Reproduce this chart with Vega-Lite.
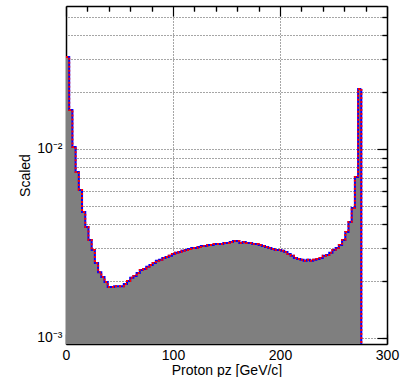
{
  "$schema": "https://vega.github.io/schema/vega-lite/v6.json",
  "width": 321,
  "height": 338,
  "autosize": {"type": "none"},
  "padding": {"left": 66, "top": 6, "right": 20, "bottom": 33},
  "background": "white",
  "config": {
    "font": "Liberation Sans",
    "view": {"stroke": null},
    "axis": {
      "labelFont": "Liberation Sans",
      "titleFont": "Liberation Sans",
      "labelColor": "#000",
      "titleColor": "#000",
      "tickColor": "#000",
      "domainColor": "#000",
      "labelFontSize": 14,
      "titleFontSize": 14,
      "titleFontWeight": "normal",
      "gridColor": "#000",
      "gridDash": [1, 2],
      "gridOpacity": 0.7,
      "gridWidth": 1,
      "tickWidth": 1.2,
      "domainWidth": 1.5,
      "zindex": 1
    }
  },
  "datasets": {
    "h": [
      {"lo": 0, "v": 0.0307}, {"lo": 3, "v": 0.0161}, {"lo": 6, "v": 0.01025}, {"lo": 9, "v": 0.00756},
      {"lo": 12, "v": 0.00607}, {"lo": 15, "v": 0.00464}, {"lo": 18, "v": 0.00387}, {"lo": 21, "v": 0.0033},
      {"lo": 24, "v": 0.00292}, {"lo": 27, "v": 0.00249}, {"lo": 30, "v": 0.00223}, {"lo": 33, "v": 0.0021},
      {"lo": 36, "v": 0.00198}, {"lo": 39, "v": 0.00186}, {"lo": 42, "v": 0.00186}, {"lo": 45, "v": 0.00188},
      {"lo": 48, "v": 0.00188}, {"lo": 51, "v": 0.00188}, {"lo": 54, "v": 0.00193}, {"lo": 57, "v": 0.002},
      {"lo": 60, "v": 0.00208}, {"lo": 63, "v": 0.00213}, {"lo": 66, "v": 0.00221}, {"lo": 69, "v": 0.00229},
      {"lo": 72, "v": 0.00232}, {"lo": 75, "v": 0.00238}, {"lo": 78, "v": 0.00243}, {"lo": 81, "v": 0.00249},
      {"lo": 84, "v": 0.00256}, {"lo": 87, "v": 0.00259}, {"lo": 90, "v": 0.00265}, {"lo": 93, "v": 0.00268},
      {"lo": 96, "v": 0.00272}, {"lo": 99, "v": 0.00278}, {"lo": 102, "v": 0.00282}, {"lo": 105, "v": 0.00285},
      {"lo": 108, "v": 0.00289}, {"lo": 111, "v": 0.00292}, {"lo": 114, "v": 0.00296}, {"lo": 117, "v": 0.00299},
      {"lo": 120, "v": 0.00299}, {"lo": 123, "v": 0.00303}, {"lo": 126, "v": 0.00307}, {"lo": 129, "v": 0.00307},
      {"lo": 132, "v": 0.0031}, {"lo": 135, "v": 0.0031}, {"lo": 138, "v": 0.00314}, {"lo": 141, "v": 0.00314},
      {"lo": 144, "v": 0.00314}, {"lo": 147, "v": 0.00318}, {"lo": 150, "v": 0.00318}, {"lo": 153, "v": 0.00322},
      {"lo": 156, "v": 0.00326}, {"lo": 159, "v": 0.00326}, {"lo": 162, "v": 0.00318}, {"lo": 165, "v": 0.00322},
      {"lo": 168, "v": 0.00318}, {"lo": 171, "v": 0.00318}, {"lo": 174, "v": 0.00314}, {"lo": 177, "v": 0.00314},
      {"lo": 180, "v": 0.0031}, {"lo": 183, "v": 0.00307}, {"lo": 186, "v": 0.00303}, {"lo": 189, "v": 0.00299},
      {"lo": 192, "v": 0.00296}, {"lo": 195, "v": 0.00292}, {"lo": 198, "v": 0.00292}, {"lo": 201, "v": 0.00289},
      {"lo": 204, "v": 0.00285}, {"lo": 207, "v": 0.00278}, {"lo": 210, "v": 0.00272}, {"lo": 213, "v": 0.00265},
      {"lo": 216, "v": 0.00262}, {"lo": 219, "v": 0.00259}, {"lo": 222, "v": 0.00256}, {"lo": 225, "v": 0.00259},
      {"lo": 228, "v": 0.00256}, {"lo": 231, "v": 0.00259}, {"lo": 234, "v": 0.00262}, {"lo": 237, "v": 0.00265},
      {"lo": 240, "v": 0.00272}, {"lo": 243, "v": 0.00275}, {"lo": 246, "v": 0.00282}, {"lo": 249, "v": 0.00292},
      {"lo": 252, "v": 0.00299}, {"lo": 255, "v": 0.0031}, {"lo": 258, "v": 0.0033}, {"lo": 261, "v": 0.00364},
      {"lo": 264, "v": 0.00411}, {"lo": 267, "v": 0.00487}, {"lo": 270, "v": 0.00711}, {"lo": 273, "v": 0.0208},
      {"lo": 276, "v": 0.0208}
    ],
    "edge": [{"x": 276, "top": 0.0208, "bot": 0.000929}]
  },
  "resolve": {"axis": {"x": "independent", "y": "independent"}},
  "layer": [
    {
      "data": {"name": "h"},
      "mark": {"type": "area", "interpolate": "step-after", "color": "#7f7f7f"},
      "encoding": {
        "x": {"field": "lo", "type": "quantitative",
          "scale": {"domain": [0, 300], "nice": false, "zero": false},
          "axis": {"values": [0, 100, 200, 300], "tickSize": -10, "labelPadding": 14, "labelFlush": false, "labelOverlap": false,
            "title": "Proton pz [GeV/c]", "titlePadding": 1, "grid": false, "domain": true}},
        "y": {"field": "v", "type": "quantitative",
          "scale": {"type": "log", "domain": [0.000929, 0.0571], "nice": false},
          "axis": {"values": [0.001, 0.01], "tickSize": -10, "labelPadding": 14, "labelExpr": "datum.value < 0.005 ? '10⁻³' : '10⁻²'",
            "title": "Scaled", "titlePadding": 4, "grid": false, "domain": true}},
        "y2": {"datum": 0.000929}
      }
    },
    {
      "data": {"name": "h"},
      "mark": {"type": "line", "interpolate": "step-after", "color": "#0000ff", "strokeWidth": 2},
      "encoding": {
        "x": {"field": "lo", "type": "quantitative",
          "scale": {"domain": [0, 300], "nice": false, "zero": false},
          "axis": {"values": [20, 40, 60, 80, 120, 140, 160, 180, 220, 240, 260, 280], "tickSize": -5, "labels": false, "domain": false, "grid": false, "title": null}},
        "y": {"field": "v", "type": "quantitative",
          "scale": {"type": "log", "domain": [0.000929, 0.0571], "nice": false},
          "axis": {"values": [0.001, 0.002, 0.003, 0.004, 0.005, 0.006, 0.007, 0.008, 0.009, 0.01, 0.02, 0.03, 0.04, 0.05], "tickSize": -5, "labels": false, "domain": false, "grid": true, "title": null}}
      }
    },
    {
      "data": {"name": "h"},
      "mark": {"type": "line", "interpolate": "step-after", "color": "#ff0000", "strokeWidth": 2, "strokeDash": [2, 2]},
      "encoding": {
        "x": {"field": "lo", "type": "quantitative",
          "scale": {"domain": [0, 300], "nice": false, "zero": false},
          "axis": {"orient": "top", "values": [0, 100, 200, 300], "tickSize": -10, "labels": false, "domain": true, "grid": false, "title": null}},
        "y": {"field": "v", "type": "quantitative",
          "scale": {"type": "log", "domain": [0.000929, 0.0571], "nice": false},
          "axis": {"orient": "right", "values": [0.001, 0.01], "tickSize": -10, "labels": false, "domain": true, "grid": false, "title": null}}
      }
    },
    {
      "data": {"name": "edge"},
      "mark": {"type": "rule", "color": "#0000ff", "strokeWidth": 2},
      "encoding": {
        "x": {"field": "x", "type": "quantitative",
          "scale": {"domain": [0, 300], "nice": false, "zero": false},
          "axis": {"orient": "top", "values": [20, 40, 60, 80, 120, 140, 160, 180, 220, 240, 260, 280], "tickSize": -5, "labels": false, "domain": false, "grid": false, "title": null}},
        "y": {"field": "top", "type": "quantitative",
          "scale": {"type": "log", "domain": [0.000929, 0.0571], "nice": false},
          "axis": {"orient": "right", "values": [0.002, 0.003, 0.004, 0.005, 0.006, 0.007, 0.008, 0.009, 0.02, 0.03, 0.04, 0.05], "tickSize": -5, "labels": false, "domain": false, "grid": false, "title": null}},
        "y2": {"field": "bot"}
      }
    },
    {
      "data": {"name": "edge"},
      "mark": {"type": "rule", "color": "#ff0000", "strokeWidth": 2, "strokeDash": [2, 2]},
      "encoding": {
        "x": {"field": "x", "type": "quantitative",
          "scale": {"domain": [0, 300], "nice": false, "zero": false},
          "axis": {"values": [100, 200], "ticks": false, "labels": false, "domain": false, "grid": true, "title": null}},
        "y": {"field": "top", "type": "quantitative",
          "scale": {"type": "log", "domain": [0.000929, 0.0571], "nice": false},
          "axis": null},
        "y2": {"field": "bot"}
      }
    }
  ]
}
